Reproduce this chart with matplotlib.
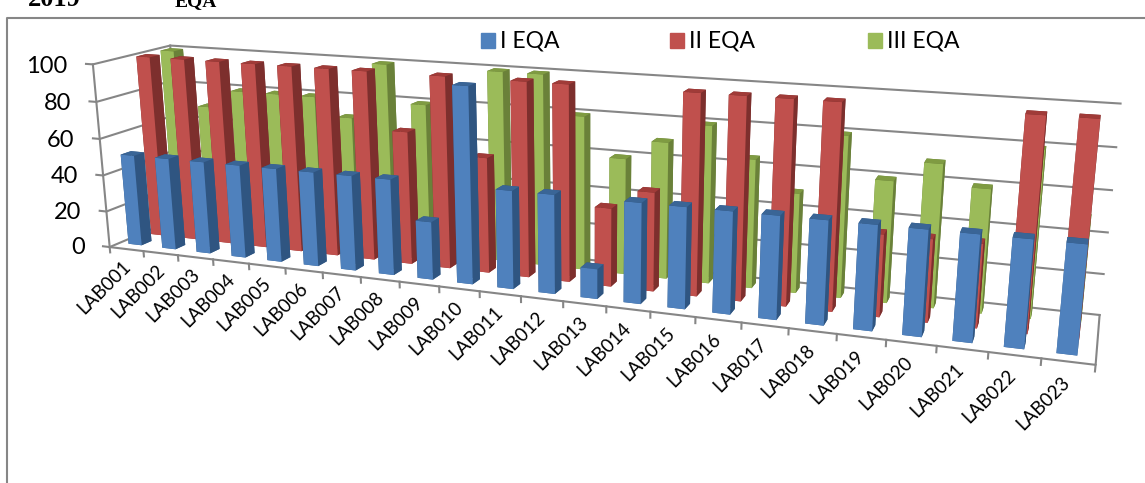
import matplotlib
matplotlib.use("Agg")
import matplotlib.pyplot as plt
from matplotlib.lines import Line2D
from matplotlib.patches import Rectangle
from mpl_toolkits.mplot3d import proj3d

labs = ["LAB%03d" % i for i in range(1, 24)]
series_names = ["I EQA", "II EQA", "III EQA"]
eqa1 = [50, 50, 50, 50, 50, 50, 50, 50, 30, 100, 50, 50, 15, 50, 50, 50, 50, 50, 50, 50, 50, 50, 50]
eqa2 = [100, 100, 100, 100, 100, 100, 100, 70, 100, 60, 100, 100, 40, 50, 100, 100, 100, 100, 40, 40, 40, 100, 100]
eqa3 = [100, 70, 80, 80, 80, 70, 100, 80, 80, 100, 100, 80, 60, 70, 80, 65, 50, 80, 60, 70, 60, 80, 50]
yticks = [0, 20, 40, 60, 80, 100]

# front, top and side shades for each series
blues = ("#4F81BD", "#3A6596", "#2F5581")
reds = ("#C0504D", "#A03B38", "#7D2F2D")
greens = ("#9BBB59", "#7F9B42", "#6A8139")
GRID = "#868686"

plt.rcParams["font.family"] = ["Lato", "DejaVu Sans"]

fig = plt.figure(figsize=(11.45, 4.83), dpi=100)
ax = fig.add_axes([0.37345, 0.34765, 0.23594, 0.53564], projection="3d", computed_zorder=False)
ax.apply_aspect = lambda position=None: None  # keep the stretched rect
ax.view_init(elev=14.833, azim=-69.148, roll=0.238)
ax.set_box_aspect((3.6664, 0.4905, 0.7607), zoom=3.7765)
ax.set_xlim3d(0, 23)
ax.set_ylim3d(0, 1)
ax.set_zlim3d(0, 100)
ax.set_axis_off()
ax.patch.set_visible(False)
M = ax.get_proj()


def line3(xs, ys, zs):
    ax.plot(xs, ys, zs, color=GRID, lw=1.5, zorder=1, clip_on=False, solid_capstyle="projecting")


def label3(x, y, z, s, **kw):
    # text at a 3d spot but with a rotation of its own
    tx, ty, _ = proj3d.proj_transform(x, y, z, M)
    ax.text2D(tx, ty, s, transform=ax.transData, zorder=10, **kw)


# walls and floor
for v in yticks:
    line3([-0.2, 0, 0, 23], [0, 0, 1, 1], [v, v, v, v])
    label3(-0.75, 0, v - 2, str(v), ha="right", va="center", fontsize=17)
line3([0, 0], [0, 0], [0, 100])
line3([0, 0], [1, 1], [0, 100])
line3([0, 23, 23], [0, 0, 1], [0, 0, 0])
for i in range(len(labs) + 1):
    line3([i, i], [0, 0], [0, -3])
for i, lab in enumerate(labs):
    label3(i + 0.5, 0, -8, lab, rotation=45, rotation_mode="anchor", ha="right", va="center", fontsize=13.5)


def bars(values, shades, y0, zbase):
    front, top, side = shades
    for i, v in enumerate(values):
        # faces come in the order bottom, top, -y, +y, -x, +x
        ax.bar3d(i + 0.26, y0, 0, 0.39, 0.13, v, color=[top, top, front, side, side, side],
                 shade=False, zorder=zbase + i * 0.01, clip_on=False)


bars(eqa3, greens, 0.75, 2)
bars(eqa2, reds, 0.43, 3)
bars(eqa1, blues, 0.13, 4)

# legend, placed by hand like the original
H = 483.0
for x, name, shades in zip([481, 670, 868], series_names, [blues, reds, greens]):
    fig.add_artist(Rectangle((x / 1145, (H - 48) / H), 14 / 1145, 15 / H, color=shades[0], transform=fig.transFigure))
    fig.text((x + 19) / 1145, (H - 41) / H, name, fontsize=16.5, va="center")

# outer frame and the title, cut off by the top edge
fig.add_artist(Line2D([7 / 1145, 7 / 1145, 1], [0, (H - 18) / H, (H - 18) / H], color=GRID, lw=1.5))
fig.text(28 / 1145, (H - 6) / H, "2019", family="Liberation Serif", weight="bold", fontsize=19, va="baseline")
fig.text(175 / 1145, (H - 6) / H, "EQA", family="Liberation Serif", weight="bold", fontsize=14, va="baseline")

fig.savefig("out.png", dpi=100)
